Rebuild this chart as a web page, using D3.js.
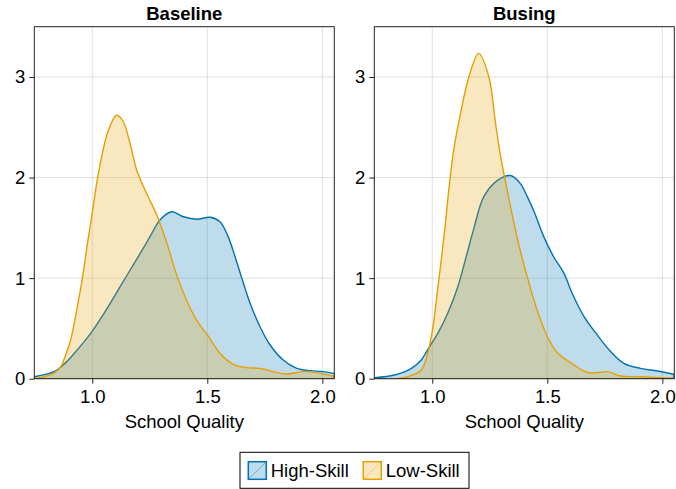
<!DOCTYPE html>
<html><head><meta charset="utf-8">
<script src="https://cdn.jsdelivr.net/npm/d3@7"></script>
<style>body{margin:0;background:#fff}svg{display:block}text{font-family:"Liberation Sans",Arial,sans-serif}</style>
</head><body><svg id="c" width="676" height="489"></svg>
<script>
const panels = ["Baseline", "Busing"];
const seriesNames = ["High-Skill", "Low-Skill"];
const colors = ["#0072B2", "#E69F00"];
const xTicks = [1.0, 1.5, 2.0];
const yTicks = [0, 1, 2, 3];
const xLabel = "School Quality";

const baselineHigh = [[0.748,0.02],[0.834,0.07],[0.88,0.15],[0.921,0.25],[0.993,0.45],[1.051,0.65],[1.138,0.98],[1.225,1.31],[1.255,1.43],[1.295,1.58],[1.345,1.66],[1.396,1.61],[1.454,1.585],[1.512,1.605],[1.555,1.56],[1.591,1.41],[1.621,1.21],[1.65,1.0],[1.686,0.75],[1.729,0.517],[1.773,0.335],[1.83,0.186],[1.889,0.103],[1.947,0.08],[2.004,0.07],[2.052,0.05]];
const baselineLow = [[0.748,0.005],[0.787,0.018],[0.83,0.05],[0.863,0.12],[0.885,0.24],[0.906,0.385],[0.935,0.716],[0.957,1.0],[0.978,1.33],[0.998,1.62],[1.019,1.94],[1.041,2.21],[1.07,2.47],[1.106,2.62],[1.135,2.555],[1.164,2.34],[1.193,2.075],[1.229,1.876],[1.251,1.77],[1.28,1.63],[1.324,1.35],[1.367,1.03],[1.41,0.78],[1.454,0.58],[1.505,0.42],[1.555,0.253],[1.613,0.143],[1.671,0.11],[1.729,0.103],[1.787,0.07],[1.845,0.047],[1.918,0.07],[1.976,0.06],[2.052,0.02]];
const busingHigh = [[0.75,0.01],[0.836,0.037],[0.908,0.10],[0.952,0.186],[0.98,0.29],[1.024,0.45],[1.067,0.65],[1.111,0.915],[1.147,1.21],[1.179,1.48],[1.224,1.81],[1.282,1.97],[1.34,2.02],[1.383,1.94],[1.413,1.81],[1.441,1.67],[1.485,1.41],[1.528,1.21],[1.572,1.05],[1.608,0.85],[1.659,0.62],[1.717,0.435],[1.775,0.27],[1.833,0.153],[1.905,0.103],[1.978,0.077],[2.05,0.044]];
const busingLow = [[0.75,0.0],[0.85,0.003],[0.893,0.02],[0.952,0.087],[0.98,0.25],[1.002,0.5],[1.024,0.9],[1.04,1.2],[1.055,1.5],[1.072,1.88],[1.093,2.27],[1.123,2.64],[1.159,3.0],[1.202,3.235],[1.246,3.0],[1.275,2.54],[1.297,2.21],[1.326,1.87],[1.34,1.71],[1.369,1.40],[1.413,1.01],[1.456,0.68],[1.5,0.42],[1.543,0.26],[1.601,0.16],[1.673,0.064],[1.717,0.06],[1.76,0.07],[1.818,0.027],[1.905,0.02],[2.05,0.005]];
const panelData = [[baselineHigh, baselineLow], [busingHigh, busingLow]];

const svg = d3.select("#c");
const FS = 18.5;
const plotTop = 26.7, plotBottom = 378.7, plotW = 300;
const lefts = [34.3, 374.3];
const y = d3.scaleLinear().domain([0, 3.5]).range([plotBottom, plotTop]);

panels.forEach((name, pi) => {
  const x = d3.scaleLinear().domain([0.748, 2.052]).range([lefts[pi], lefts[pi] + plotW]);
  const g = svg.append("g");
  const cid = "clip" + pi;
  svg.append("clipPath").attr("id", cid).append("rect")
    .attr("x", lefts[pi]).attr("y", plotTop).attr("width", plotW).attr("height", plotBottom - plotTop);
  g.selectAll(".gx").data(xTicks).enter().append("line")
    .attr("x1", d => x(d)).attr("x2", d => x(d)).attr("y1", plotTop).attr("y2", plotBottom)
    .attr("stroke", "rgba(0,0,0,0.12)").attr("stroke-width", 1);
  g.selectAll(".gy").data(yTicks).enter().append("line")
    .attr("x1", lefts[pi]).attr("x2", lefts[pi] + plotW).attr("y1", d => y(d)).attr("y2", d => y(d))
    .attr("stroke", "rgba(0,0,0,0.12)").attr("stroke-width", 1);
  const area = d3.area().x(d => x(d[0])).y0(y(0)).y1(d => y(Math.max(0, d[1]))).curve(d3.curveCatmullRom.alpha(0.5));
  const cg = g.append("g").attr("clip-path", `url(#${cid})`);
  panelData[pi].forEach((ser, si) => {
    cg.append("path").datum(ser).attr("d", area)
      .attr("fill", colors[si]).attr("fill-opacity", 0.25)
      .attr("stroke", colors[si]).attr("stroke-width", 1.4).attr("stroke-linejoin", "round");
  });
  g.append("rect").attr("x", lefts[pi]).attr("y", plotTop).attr("width", plotW).attr("height", plotBottom - plotTop)
    .attr("fill", "none").attr("stroke", "#222").attr("stroke-width", 1);
  const xa = g.append("g").attr("transform", `translate(0,${plotBottom})`)
    .call(d3.axisBottom(x).tickValues(xTicks).tickFormat(d3.format(".1f")).tickSizeOuter(0).tickSize(5).tickPadding(6));
  const ya = g.append("g").attr("transform", `translate(${lefts[pi]},0)`)
    .call(d3.axisLeft(y).tickValues(yTicks).tickFormat(d3.format("d")).tickSizeOuter(0).tickSize(5).tickPadding(4));
  [xa, ya].forEach(a => {
    a.select(".domain").remove();
    a.selectAll("line").attr("stroke", "#222");
    a.selectAll("text").attr("font-size", FS).attr("fill", "#000").attr("font-family", "Liberation Sans, Arial, sans-serif");
  });
  g.append("text").attr("x", lefts[pi] + plotW / 2).attr("y", 428).attr("text-anchor", "middle")
    .attr("font-size", FS).text(xLabel);
  g.append("text").attr("x", lefts[pi] + plotW / 2).attr("y", 20).attr("text-anchor", "middle")
    .attr("font-size", FS).attr("font-weight", "bold").text(name);
});

const lg = svg.append("g");
lg.append("rect").attr("x", 240).attr("y", 452.3).attr("width", 229).attr("height", 36)
  .attr("fill", "#fff").attr("stroke", "#000").attr("stroke-width", 1);
const legX = [248.3, 363.3];
seriesNames.forEach((n, i) => {
  const px = legX[i], py = 461.7;
  lg.append("rect").attr("x", px).attr("y", py).attr("width", 18).attr("height", 17.6)
    .attr("fill", colors[i]).attr("fill-opacity", 0.25).attr("stroke", colors[i]).attr("stroke-width", 1.5);
  lg.append("line").attr("x1", px).attr("y1", py + 17.6).attr("x2", px + 18).attr("y2", py)
    .attr("stroke", colors[i]).attr("stroke-opacity", 0.45).attr("stroke-width", 1);
  lg.append("text").attr("x", px + 22.4).attr("y", 476.5).attr("font-size", FS).text(n);
});
</script></body></html>
